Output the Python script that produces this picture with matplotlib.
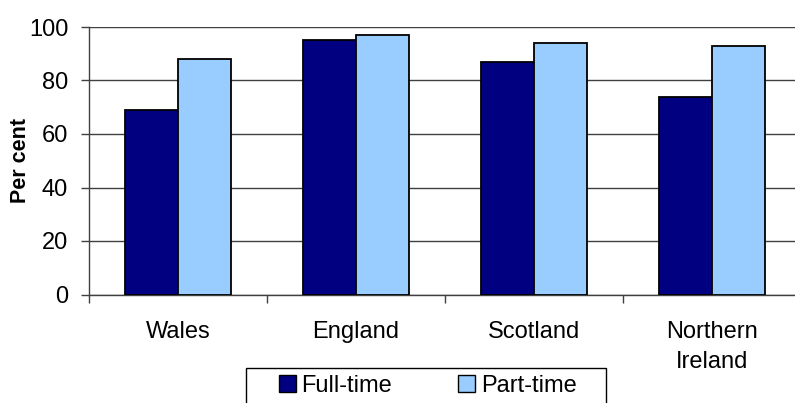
import numpy as np
import matplotlib
matplotlib.use("Agg")
import matplotlib.pyplot as plt
from matplotlib.patches import Patch, Rectangle

plt.rcParams["font.family"] = ["Liberation Sans", "DejaVu Sans"]

regions = ["Wales", "England", "Scotland", "Northern\nIreland"]
full_time = [69, 95, 87, 74]
part_time = [88, 97, 94, 93]

fig = plt.figure(figsize=(7.95, 4.03), dpi=100)
ax = fig.add_axes([89 / 795, 1 - 294.5 / 403, 712 / 795, 267.5 / 403])

x = np.arange(len(regions))
w = 0.295
ax.bar(x - w / 2, full_time, w, color="#000080", edgecolor="black", linewidth=1.3, zorder=3)
ax.bar(x + w / 2, part_time, w, color="#99CCFF", edgecolor="black", linewidth=1.3, zorder=3)

ax.set_xlim(-0.5, len(regions) - 0.5)
ax.set_ylim(0, 100)
ax.set_yticks(range(0, 101, 20))
ax.tick_params(axis="y", labelsize=17, length=6, width=1, color="#404040", pad=9)
ax.yaxis.grid(True, color="#404040", linewidth=1, zorder=0)

# category labels sit between boundary ticks
ax.set_xticks(np.arange(-0.5, len(regions), 1))
ax.set_xticklabels([])
ax.set_xticks(x, minor=True)
ax.set_xticklabels(regions, minor=True, fontsize=17, va="top", linespacing=1.45)
ax.tick_params(axis="x", which="major", length=6, width=1, color="#404040")
ax.tick_params(axis="x", which="minor", length=0, pad=19)

for s in ["top", "right"]:
    ax.spines[s].set_visible(False)
for s in ["left", "bottom"]:
    ax.spines[s].set_color("#404040")
    ax.spines[s].set_linewidth(1)

ax.set_ylabel("Per cent", fontsize=15.5, fontweight="bold")
ax.yaxis.set_label_coords(-0.082, 0.5)

handles = [Patch(facecolor="#000080", edgecolor="black", label="Full-time"),
           Patch(facecolor="#99CCFF", edgecolor="black", label="Part-time")]
leg = fig.legend(handles=handles, loc="upper left", bbox_to_anchor=(279 / 795, 1 - 375 / 403),
                 ncol=2, fontsize=17, frameon=False, handlelength=0.7,
                 handleheight=0.7, handletextpad=0.25, columnspacing=2.8, borderpad=0,
                 borderaxespad=0)
fig.patches.append(Rectangle((245.5 / 795, -0.05), 360 / 795, 0.05 + 1 - 368 / 403,
                             transform=fig.transFigure, fill=False, edgecolor="black",
                             linewidth=1))

fig.savefig("out.png", dpi=100)
